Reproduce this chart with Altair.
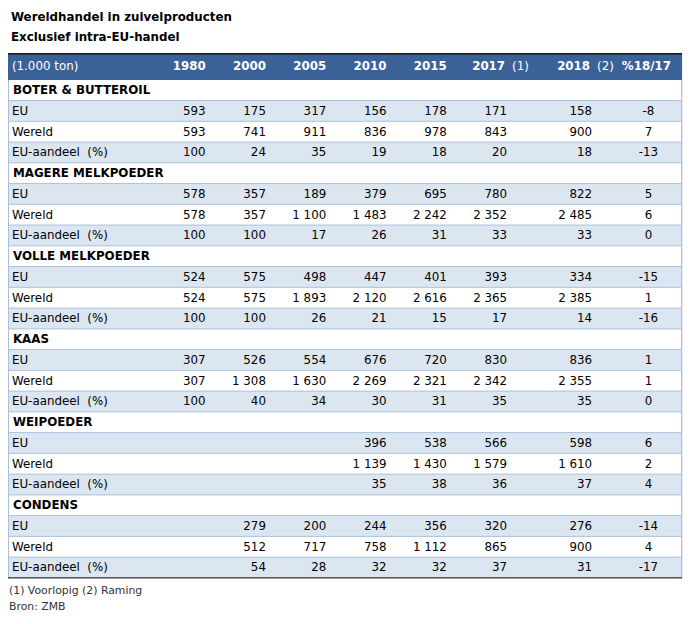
import altair as alt
import pandas as pd

# ---------------- data ----------------
TITLE = "Wereldhandel in zuivelproducten"
SUBTITLE = "Exclusief intra-EU-handel"
UNIT = "(1.000 ton)"
YEARS = ["1980", "2000", "2005", "2010", "2015", "2017", "2018"]
YEAR_NOTES = ["", "", "", "", "", "(1)", "(2)"]
CHANGE_HEADER = "%18/17"
PRODUCTS = ["BOTER & BUTTEROIL", "MAGERE MELKPOEDER", "VOLLE MELKPOEDER",
            "KAAS", "WEIPOEDER", "CONDENS"]
MEASURES = ["EU", "Wereld", "EU-aandeel\u00a0 (%)"]

# values per product: 1980, 2000, 2005, 2010, 2015, 2017, 2018, %18/17
BOTER_EU = [593, 175, 317, 156, 178, 171, 158, -8]
BOTER_WERELD = [593, 741, 911, 836, 978, 843, 900, 7]
BOTER_AANDEEL = [100, 24, 35, 19, 18, 20, 18, -13]

MAGERE_EU = [578, 357, 189, 379, 695, 780, 822, 5]
MAGERE_WERELD = [578, 357, 1100, 1483, 2242, 2352, 2485, 6]
MAGERE_AANDEEL = [100, 100, 17, 26, 31, 33, 33, 0]

VOLLE_EU = [524, 575, 498, 447, 401, 393, 334, -15]
VOLLE_WERELD = [524, 575, 1893, 2120, 2616, 2365, 2385, 1]
VOLLE_AANDEEL = [100, 100, 26, 21, 15, 17, 14, -16]

KAAS_EU = [307, 526, 554, 676, 720, 830, 836, 1]
KAAS_WERELD = [307, 1308, 1630, 2269, 2321, 2342, 2355, 1]
KAAS_AANDEEL = [100, 40, 34, 30, 31, 35, 35, 0]

WEI_EU = [None, None, None, 396, 538, 566, 598, 6]
WEI_WERELD = [None, None, None, 1139, 1430, 1579, 1610, 2]
WEI_AANDEEL = [None, None, None, 35, 38, 36, 37, 4]

CONDENS_EU = [None, 279, 200, 244, 356, 320, 276, -14]
CONDENS_WERELD = [None, 512, 717, 758, 1112, 865, 900, 4]
CONDENS_AANDEEL = [None, 54, 28, 32, 32, 37, 31, -17]

FOOTNOTE = "(1) Voorlopig (2) Raming"
SOURCE = "Bron: ZMB"

BLOCKS = [
    [BOTER_EU, BOTER_WERELD, BOTER_AANDEEL],
    [MAGERE_EU, MAGERE_WERELD, MAGERE_AANDEEL],
    [VOLLE_EU, VOLLE_WERELD, VOLLE_AANDEEL],
    [KAAS_EU, KAAS_WERELD, KAAS_AANDEEL],
    [WEI_EU, WEI_WERELD, WEI_AANDEEL],
    [CONDENS_EU, CONDENS_WERELD, CONDENS_AANDEEL],
]

# ---------------- layout (styling) ----------------
W, H = 683, 616
TABLE_R = 681
COL_RIGHT = [200, 261, 322, 383, 444, 505, 591]   # right edge of year columns
CHANGE_CENTER = 648
HEADER_YEAR_RIGHT = [200, 261, 322, 383, 444, 503, 589]
NOTE_LEFT = 7
BODY_TOP, ROW_H, N_ROWS = 69, 21, 24
HEADER_TOP = 42
HEAD_Y = 55

FONT = "DejaVu Sans"
HEAD_BG = "#3B6298"
SHADE = "#DCE6F1"
GRID = "#A9C0DD"


def fmt(v):
    if v is None:
        return ""
    return f"{v:,}".replace(",", "\u00a0")


# build tables
rows, cells = [], []
r = 0
for p, block in zip(PRODUCTS, BLOCKS):
    rows.append({"row": r, "row2": r + 1, "mid": r + 0.5, "label": p, "kind": "cat"})
    r += 1
    for m, vals in zip(MEASURES, block):
        rows.append({"row": r, "row2": r + 1, "mid": r + 0.5, "label": m,
                     "kind": "shade" if m != "Wereld" else "plain"})
        for c, v in enumerate(vals[:7]):
            cells.append({"mid": r + 0.5, "x": COL_RIGHT[c], "txt": fmt(v)})
        rows[-1]["chg"] = fmt(vals[7])
        r += 1

rows_df = pd.DataFrame(rows)
cells_df = pd.DataFrame(cells)
bounds_df = pd.DataFrame({"b": list(range(1, N_ROWS))})
head_df = pd.DataFrame({"year": YEARS, "x": HEADER_YEAR_RIGHT, "note": YEAR_NOTES})

xs = alt.Scale(domain=[0, W], range=[0, W], nice=False, zero=False)
ys = alt.Scale(domain=[0, N_ROWS], range=[BODY_TOP, BODY_TOP + ROW_H * N_ROWS],
               nice=False, zero=False)

base_rows = alt.Chart(rows_df)

shade = base_rows.transform_filter(alt.datum.kind == "shade").mark_rect(
    color=SHADE).encode(
    x=alt.value(0), x2=alt.value(TABLE_R),
    y=alt.Y("row:Q", scale=ys, axis=None), y2="row2:Q")

grid = alt.Chart(bounds_df).mark_rule(color=GRID, strokeWidth=1).encode(
    x=alt.value(0), x2=alt.value(TABLE_R),
    y=alt.Y("b:Q", scale=ys, axis=None))

left_border = alt.Chart(bounds_df).mark_rule(color=GRID, strokeWidth=1).encode(
    x=alt.value(0.5), y=alt.value(BODY_TOP), y2=alt.value(BODY_TOP + ROW_H * N_ROWS))
right_border = alt.Chart(bounds_df).mark_rule(color=GRID, strokeWidth=1).encode(
    x=alt.value(TABLE_R + 0.5), y=alt.value(BODY_TOP), y2=alt.value(BODY_TOP + ROW_H * N_ROWS))

bottom_line = alt.Chart(pd.DataFrame({"b": [N_ROWS]})).mark_rule(
    color="#000000", strokeWidth=1).encode(
    x=alt.value(0), x2=alt.value(TABLE_R + 1),
    y=alt.Y("b:Q", scale=ys, axis=None))

header_band = alt.Chart(head_df).mark_rect(color=HEAD_BG).encode(
    x=alt.value(0), x2=alt.value(TABLE_R + 1),
    y=alt.value(HEADER_TOP), y2=alt.value(BODY_TOP))
header_top = alt.Chart(head_df).mark_rule(color="#1a1a1a", strokeWidth=1).encode(
    x=alt.value(0), x2=alt.value(TABLE_R + 1), y=alt.value(HEADER_TOP + 0.5))

head_years = alt.Chart(head_df).mark_text(
    font=FONT, fontSize=12, fontWeight="bold", color="white",
    align="right", baseline="middle").encode(
    x=alt.X("x:Q", scale=xs, axis=None), y=alt.value(HEAD_Y), text="year:N")
head_notes = alt.Chart(head_df).transform_filter(alt.datum.note != "").transform_calculate(
    xn=f"datum.x + {NOTE_LEFT}").mark_text(
    font=FONT, fontSize=12, color="white", align="left", baseline="middle").encode(
    x=alt.X("xn:Q", scale=xs, axis=None), y=alt.value(HEAD_Y), text="note:N")
head_unit = alt.Chart(pd.DataFrame({"t": [UNIT]})).mark_text(
    font=FONT, fontSize=12, color="white", align="left", baseline="middle").encode(
    x=alt.value(4), y=alt.value(HEAD_Y), text="t:N")
head_change = alt.Chart(pd.DataFrame({"t": [CHANGE_HEADER], "x": [CHANGE_CENTER - 2]})).mark_text(
    font=FONT, fontSize=12, fontWeight="bold", color="white", align="center",
    baseline="middle").encode(
    x=alt.X("x:Q", scale=xs, axis=None), y=alt.value(HEAD_Y), text="t:N")

labels_cat = base_rows.transform_filter(alt.datum.kind == "cat").mark_text(
    font=FONT, fontSize=12, fontWeight="bold", color="#000000",
    align="left", baseline="middle").encode(
    x=alt.value(5), y=alt.Y("mid:Q", scale=ys, axis=None), text="label:N")
labels_meas = base_rows.transform_filter(alt.datum.kind != "cat").mark_text(
    font=FONT, fontSize=12, color="#000000", align="left", baseline="middle").encode(
    x=alt.value(4), y=alt.Y("mid:Q", scale=ys, axis=None), text="label:N")

values = alt.Chart(cells_df).mark_text(
    font=FONT, fontSize=12, color="#000000", align="right", baseline="middle").encode(
    x=alt.X("x:Q", scale=xs, axis=None), y=alt.Y("mid:Q", scale=ys, axis=None),
    text="txt:N")
changes = base_rows.transform_filter(alt.datum.kind != "cat").transform_calculate(
    xc=str(CHANGE_CENTER)).mark_text(
    font=FONT, fontSize=12, color="#000000", align="center", baseline="middle").encode(
    x=alt.X("xc:Q", scale=xs, axis=None), y=alt.Y("mid:Q", scale=ys, axis=None),
    text="chg:N")

title = alt.Chart(pd.DataFrame({"t": [TITLE]})).mark_text(
    font=FONT, fontSize=12, fontWeight="bold", color="#000000",
    align="left", baseline="alphabetic").encode(
    x=alt.value(3), y=alt.value(10), text="t:N")
subtitle = alt.Chart(pd.DataFrame({"t": [SUBTITLE]})).mark_text(
    font=FONT, fontSize=12, fontWeight="bold", color="#000000",
    align="left", baseline="alphabetic").encode(
    x=alt.value(3), y=alt.value(30), text="t:N")
foot1 = alt.Chart(pd.DataFrame({"t": [FOOTNOTE]})).mark_text(
    font=FONT, fontSize=11, color="#333333", align="left", baseline="middle").encode(
    x=alt.value(1), y=alt.value(586), text="t:N")
foot2 = alt.Chart(pd.DataFrame({"t": [SOURCE]})).mark_text(
    font=FONT, fontSize=11, color="#333333", align="left", baseline="middle").encode(
    x=alt.value(1), y=alt.value(602), text="t:N")

chart = alt.layer(
    shade, grid, left_border, right_border, header_band, header_top, bottom_line,
    head_years, head_notes, head_unit, head_change,
    labels_cat, labels_meas, values, changes,
    title, subtitle, foot1, foot2,
).properties(
    width=W, height=H,
    autosize=alt.AutoSizeParams(type="none"),
    padding=0,
).configure_view(stroke=None)

chart.save("out.html", embed_options={"renderer": "svg", "actions": False})
